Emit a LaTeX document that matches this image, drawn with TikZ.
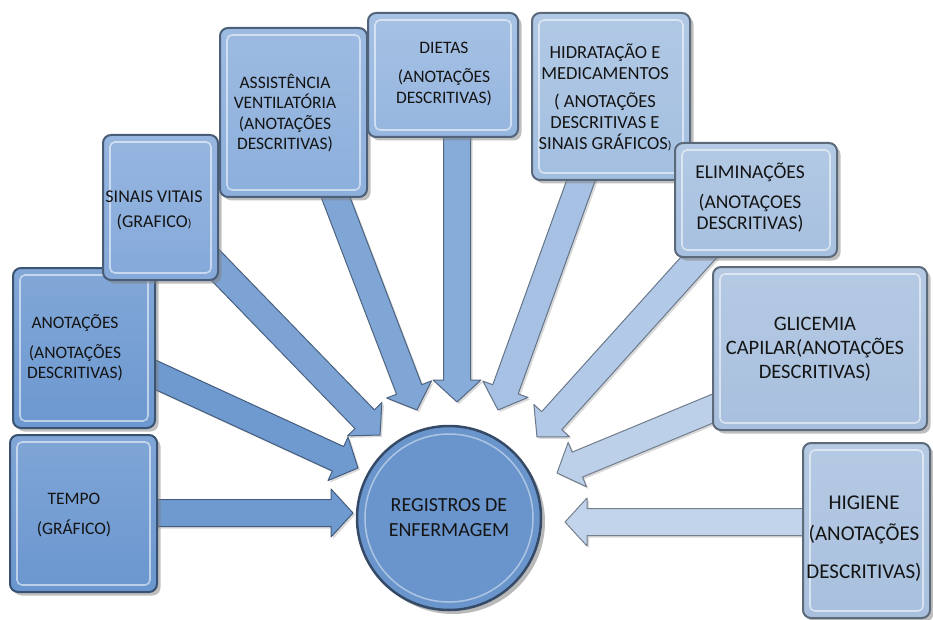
\documentclass[tikz,border=0pt]{standalone}
\usepackage{fontspec}
\setmainfont{Carlito}
\usetikzlibrary{calc,shadows}
\definecolor{txtc}{HTML}{141414}
\definecolor{bTempo}{HTML}{6A96CF}
\definecolor{bAnot}{HTML}{6C98D0}
\definecolor{bSinais}{HTML}{84A9DA}
\definecolor{bAssist}{HTML}{8CAFDC}
\definecolor{bDietas}{HTML}{96B6DF}
\definecolor{bHidra}{HTML}{A3BFE0}
\definecolor{bElim}{HTML}{A6C0DF}
\definecolor{bGlic}{HTML}{A8C0DE}
\definecolor{bHig}{HTML}{A8C0DE}
\definecolor{aTempo}{HTML}{6F9AD0}
\definecolor{aSinais}{HTML}{7CA3D4}
\definecolor{aAssist}{HTML}{80A6D6}
\definecolor{aDietas}{HTML}{88ACD9}
\definecolor{aHidra}{HTML}{A6C1E3}
\definecolor{aElim}{HTML}{B2C9E7}
\definecolor{aGlic}{HTML}{BDD0EA}
\definecolor{aHig}{HTML}{C2D4EB}
\definecolor{cCirc}{HTML}{6A95CC}
\newcommand\blockarr[3]{%
  \coordinate (ba-n) at ($(#3)!22pt!(#2)$);
  \filldraw[#1] ($(#2)!13.5pt!90:(#3)$) -- ($(ba-n)!13.5pt!90:(#3)$) -- ($(ba-n)!24pt!90:(#3)$) -- (#3) -- ($(ba-n)!24pt!-90:(#3)$) -- ($(ba-n)!13.5pt!-90:(#3)$) -- ($(#2)!13.5pt!-90:(#3)$) -- cycle;
}
\begin{document}
\begin{tikzpicture}[x=1pt,y=-1pt,
  box/.style={rounded corners=8pt, top color=#1!85!white, bottom color=#1, draw=#1!55!black, line width=2pt,
    drop shadow={shadow xshift=3.5pt, shadow yshift=-3.5pt, opacity=.5},
    path picture={\draw[white, opacity=.55, line width=1.6pt, rounded corners=5pt]
      ([shift={(7pt,-7pt)}]path picture bounding box.north west) rectangle
      ([shift={(-7pt,7pt)}]path picture bounding box.south east);}},
  arr/.style={fill=#1, draw=#1!60!black, line width=1pt, line join=round,
    drop shadow={shadow xshift=2pt, shadow yshift=-2pt, opacity=.3}},
  txt/.style={align=center, text=txtc, inner sep=0pt},
  circ/.style={circle, fill=cCirc, draw=cCirc!50!black, line width=2.5pt, align=center, text=txtc,
    drop shadow={shadow xshift=4pt, shadow yshift=-4pt, opacity=.55},
    path picture={\draw[white, opacity=.45, line width=1.5pt] (path picture bounding box.center) circle (84pt);}}
]
\useasboundingbox (0,0) rectangle (933,620);

% tails and tips
\coordinate (tl-tempo) at (100,513);
\coordinate (tp-tempo) at (353,513);
\coordinate (tl-anot) at (95,347);
\coordinate (tp-anot) at (358,468);
\coordinate (tl-sinais) at (160,208);
\coordinate (tp-sinais) at (380,435);
\coordinate (tl-assist) at (303,112);
\coordinate (tp-assist) at (417,410);
\coordinate (tl-dietas) at (457,80);
\coordinate (tp-dietas) at (457,402);
\coordinate (tl-hidra) at (610,100);
\coordinate (tp-hidra) at (498,410);
\coordinate (tl-elim) at (755,195);
\coordinate (tp-elim) at (537,437);
\coordinate (tl-glic) at (830,360);
\coordinate (tp-glic) at (557,473);
\coordinate (tl-hig) at (875,522);
\coordinate (tp-hig) at (565,522);

% arrows
\blockarr{arr=aTempo}{tl-tempo}{tp-tempo}
\blockarr{arr=aTempo}{tl-anot}{tp-anot}
\blockarr{arr=aSinais}{tl-sinais}{tp-sinais}
\blockarr{arr=aAssist}{tl-assist}{tp-assist}
\blockarr{arr=aDietas}{tl-dietas}{tp-dietas}
\blockarr{arr=aHidra}{tl-hidra}{tp-hidra}
\blockarr{arr=aElim}{tl-elim}{tp-elim}
\blockarr{arr=aGlic}{tl-glic}{tp-glic}
\blockarr{arr=aHig}{tl-hig}{tp-hig}

% center
\node[circ, minimum size=184pt, font={\fontsize{20}{25}\selectfont}] (reg) at (449,518) {REGISTROS DE\\ENFERMAGEM};

% boxes
\node[box=bTempo, minimum width=147pt, minimum height=157pt] (b-tempo) at (83.5,513.5) {};
\node[txt, font={\fontsize{17.5}{30}\selectfont}] (t-tempo) at (74,515) {TEMPO\\(GRÁFICO)};

\node[box=bAnot, minimum width=142pt, minimum height=160pt] (b-anot) at (84,348) {};
\node[txt, font={\fontsize{17.5}{20.5}\selectfont}] (t-anot) at (75,348) {ANOTAÇÕES\\[9pt](ANOTAÇÕES\\DESCRITIVAS)};

\node[box=bSinais, minimum width=115pt, minimum height=145pt] (b-sinais) at (160.5,207.5) {};
\node[txt, font={\fontsize{18}{25}\selectfont}] (t-sinais) at (154,210) {SINAIS VITAIS\\(GRAFICO{\fontsize{12}{12}\selectfont)}};

\node[box=bAssist, minimum width=147pt, minimum height=169pt] (b-assist) at (293.5,112.5) {};
\node[txt, font={\fontsize{17.5}{20.5}\selectfont}] (t-assist) at (285,113) {ASSISTÊNCIA\\VENTILATÓRIA\\(ANOTAÇÕES\\DESCRITIVAS)};

\node[box=bDietas, minimum width=150pt, minimum height=124pt] (b-dietas) at (443,75) {};
\node[txt, font={\fontsize{17.5}{21}\selectfont}] (t-dietas) at (444,74) {DIETAS\\[8pt](ANOTAÇÕES\\DESCRITIVAS)};

\node[box=bHidra, minimum width=158pt, minimum height=167pt] (b-hidra) at (611,96.5) {};
\node[txt, font={\fontsize{18.5}{21}\selectfont}] (t-hidra) at (605,97) {HIDRATAÇÃO E\\MEDICAMENTOS\\[7pt]( ANOTAÇÕES\\DESCRITIVAS E\\SINAIS GRÁFICOS{\fontsize{12}{12}\selectfont)}};

\node[box=bElim, minimum width=162pt, minimum height=114pt] (b-elim) at (756,200) {};
\node[txt, font={\fontsize{19.5}{21}\selectfont}] (t-elim) at (750,198) {ELIMINAÇÕES\\[9pt](ANOTAÇOES\\DESCRITIVAS)};

\node[box=bGlic, minimum width=214pt, minimum height=163pt] (b-glic) at (820,348.5) {};
\node[txt, font={\fontsize{20.5}{24}\selectfont}] (t-glic) at (815,349) {GLICEMIA\\CAPILAR(ANOTAÇÕES\\DESCRITIVAS)};

\node[box=bHig, minimum width=127pt, minimum height=175pt] (b-hig) at (866.5,530.5) {};
\node[txt, font={\fontsize{21}{31}\selectfont}] (t-hig) at (864,539) {HIGIENE\\(ANOTAÇÕES\\[7pt]DESCRITIVAS)};
\end{tikzpicture}
\end{document}
